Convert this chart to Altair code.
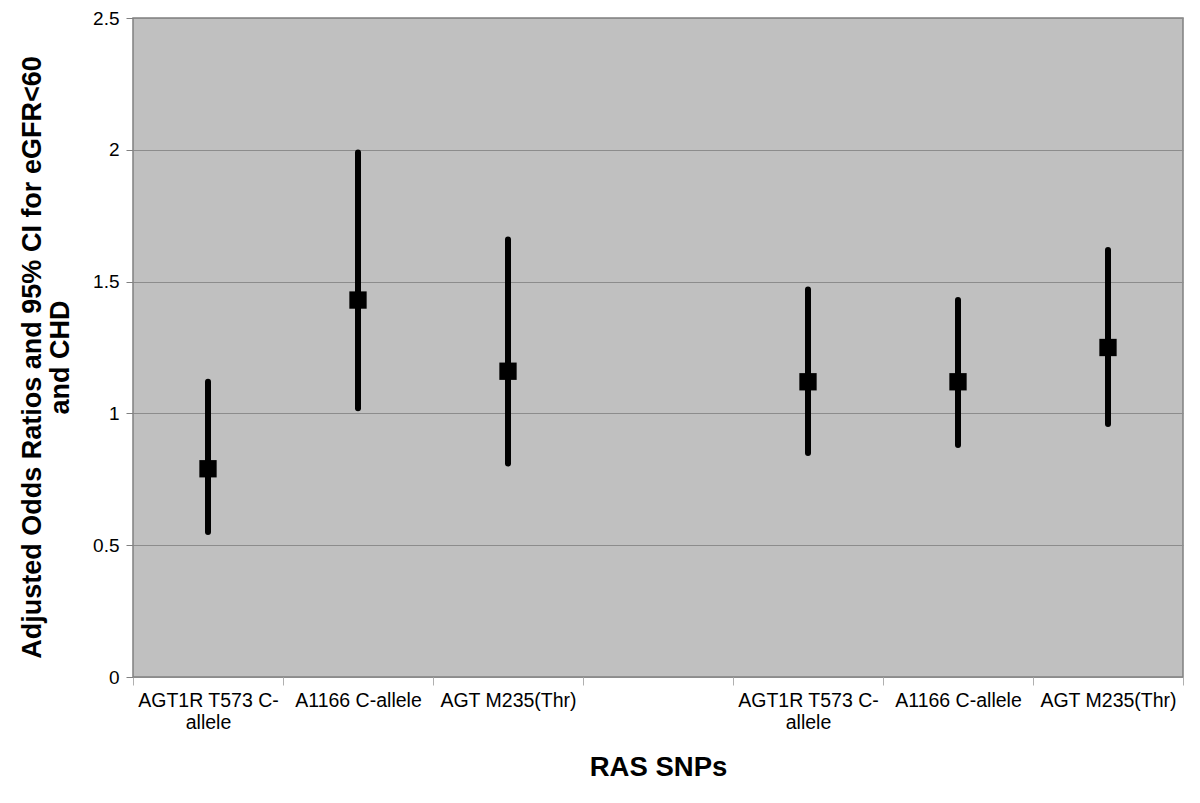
import altair as alt
import pandas as pd

keys = ["c1", "c2", "c3", "c4", "c5", "c6", "c7"]
labels = ["AGT1R T573 C-|allele", "A1166 C-allele", "AGT M235(Thr)", "",
          "AGT1R T573 C-|allele", "A1166 C-allele", "AGT M235(Thr)"]
odds = [0.79, 1.43, 1.16, None, 1.12, 1.12, 1.25]
lower = [0.55, 1.02, 0.81, None, 0.85, 0.88, 0.96]
upper = [1.12, 1.99, 1.66, None, 1.47, 1.43, 1.62]

df = pd.DataFrame({"key": keys, "label": labels, "or": odds, "lo": lower, "hi": upper})
data = df.dropna()

label_map = "{" + ",".join(f"'{k}':'{l}'" for k, l in zip(keys, labels)) + "}"

FONT = "Liberation Sans"

x = alt.X("key:N", scale=alt.Scale(domain=keys, paddingInner=0, paddingOuter=0),
          axis=alt.Axis(title="RAS SNPs", labelAngle=0,
                        labelExpr=f"isValid({label_map}[datum.value]) ? split({label_map}[datum.value], '|') : ''",
                        labelFontSize=19.5, labelColor="black", labelFont=FONT,
                        labelPadding=6, labelLineHeight=22,
                        tickBand="extent", ticks=True, tickSize=8, tickColor="#B0B0B0",
                        domain=False, grid=False,
                        titleFont=FONT, titleFontSize=27.5, titleFontWeight="bold",
                        titleColor="black", titlePadding=22))

y_axis = alt.Axis(title=["Adjusted Odds Ratios and 95% CI for eGFR<60", "and CHD"],
                  values=[0, 0.5, 1, 1.5, 2, 2.5], labelExpr="format(datum.value, '')",
                  labelFontSize=19, labelColor="black", labelFont=FONT, labelPadding=7,
                  ticks=True, tickSize=7, tickColor="#808080",
                  domain=False, grid=True, gridColor="#8C8C8C", gridWidth=1,
                  titleFont=FONT, titleFontSize=27, titleFontWeight="bold",
                  titleColor="black", titlePadding=18, titleLineHeight=28,
                  titleY=339)

base = alt.Chart(data)

rules = base.mark_rule(strokeWidth=6, strokeCap="round", color="black").encode(
    x=x,
    y=alt.Y("lo:Q", scale=alt.Scale(domain=[0, 2.5], nice=False), axis=y_axis),
    y2="hi:Q",
)

points = base.mark_square(size=300, color="black", opacity=1).encode(
    x=alt.X("key:N"),
    y=alt.Y("or:Q"),
)

chart = alt.layer(rules, points).properties(
    width=1050, height=659,
    autosize=alt.AutoSizeParams(type="none"),
    padding={"left": 125, "top": 10, "right": 9, "bottom": 118},
).configure_view(fill="#C0C0C0", stroke="#808080", strokeWidth=1.5)

chart.save("out.html", embed_options={"renderer": "svg", "actions": False})
